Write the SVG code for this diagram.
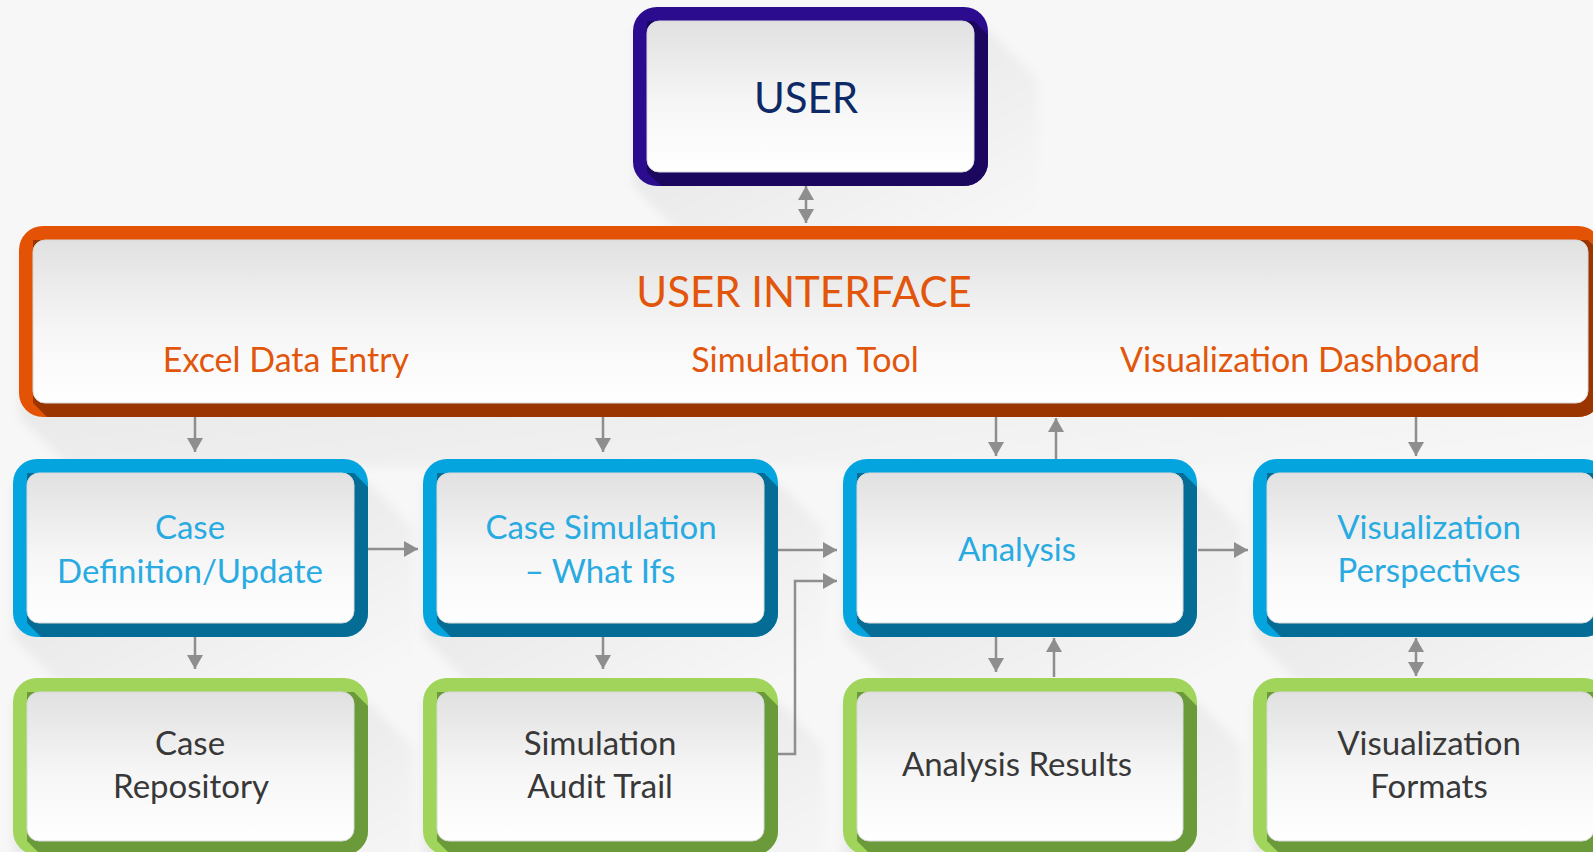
<svg xmlns="http://www.w3.org/2000/svg" width="1593" height="852" viewBox="0 0 1593 852">
<defs>
<linearGradient id="inner" x1="0" y1="0" x2="0" y2="1">
<stop offset="0" stop-color="#e1e1e1"/>
<stop offset="0.55" stop-color="#f6f6f6"/>
<stop offset="1" stop-color="#ffffff"/>
</linearGradient>
<linearGradient id="ls" x1="0" y1="0" x2="1" y2="1">
<stop offset="0.4" stop-color="#000" stop-opacity="0.05"/>
<stop offset="0.95" stop-color="#000" stop-opacity="0"/>
</linearGradient>
<filter id="soft" x="-10%" y="-10%" width="120%" height="120%">
<feGaussianBlur stdDeviation="5"/>
</filter>
<marker id="ah" viewBox="0 0 14 16" refX="14" refY="8" markerWidth="14" markerHeight="16" orient="auto-start-reverse" markerUnits="userSpaceOnUse">
<path d="M0,0 L14,8 L0,16 z" fill="#8e8e8e"/>
</marker>
</defs>
<style>
.bg{fill:#f7f7f7}
.ls{fill:url(#ls);filter:url(#soft)}
.in{fill:url(#inner);stroke:#d9d9d9;stroke-width:1}
.pu{fill:#2b0c8f}.pud{fill:#1b075e}
.or{fill:#e35205}.ord{fill:#9b3500}
.bl{fill:#04a5df}.bld{fill:#056c96}
.gr{fill:#a0d45b}.grd{fill:#6b9a3b}
text{font-family:Lato,"Open Sans","DejaVu Sans",sans-serif;text-anchor:middle}
.t1{font-size:42px}
.tu{fill:#0d2a66}
.to{fill:#e2560c}
.tl{font-size:34px}
.tb{fill:#29abe2;font-size:33px}
.tg{fill:#383838;font-size:33px}
.cn{fill:none;stroke:#8e8e8e;stroke-width:2.5}
</style>
<rect class="bg" x="0" y="0" width="1593" height="852"/>

<g id="node-user">
<path class="ls" d="M633,30 L988,30 L1038,80 L1038,236 L683,236 L633,186 Z"/>
<rect class="pu" x="633" y="7" width="355" height="179" rx="24"/>
<path class="pud" d="M647,21 L974,21 L988,35 L988,162 A24,24 0 0 1 964,186 L661,186 L647,172 Z"/>
<rect class="in" x="647" y="21" width="327" height="151" rx="12"/>
<text class="t1 tu" x="806" y="113">USER</text>
</g>

<g id="node-ui">
<path class="ls" d="M19,250 L1602,250 L1652,300 L1652,467 L69,467 L19,417 Z"/>
<rect class="or" x="19" y="226" width="1583" height="191" rx="24"/>
<path class="ord" d="M33,240 L1588,240 L1602,254 L1602,393 A24,24 0 0 1 1578,417 L47,417 L33,403 Z"/>
<rect class="in" x="33" y="240" width="1555" height="163" rx="12"/>
<text class="t1 to" x="804" y="307">USER INTERFACE</text>
<text class="tl to" x="286" y="372">Excel Data Entry</text>
<text class="tl to" x="805" y="372">Simulation Tool</text>
<text class="tl to" x="1300" y="372">Visualization Dashboard</text>
</g>

<g id="node-case-def">
<path class="ls" d="M13,483 L368,483 L413,528 L413,682 L58,682 L13,637 Z"/>
<rect class="bl" x="13" y="459" width="355" height="178" rx="24"/>
<path class="bld" d="M27,473 L354,473 L368,487 L368,613 A24,24 0 0 1 344,637 L41,637 L27,623 Z"/>
<rect class="in" x="27" y="473" width="327" height="150" rx="12"/>
<text class="tb" x="190" y="539">Case</text>
<text class="tb" x="190" y="583">Definition/Update</text>
</g>

<g id="node-case-sim">
<path class="ls" d="M423,483 L778,483 L823,528 L823,682 L468,682 L423,637 Z"/>
<rect class="bl" x="423" y="459" width="355" height="178" rx="24"/>
<path class="bld" d="M437,473 L764,473 L778,487 L778,613 A24,24 0 0 1 754,637 L451,637 L437,623 Z"/>
<rect class="in" x="437" y="473" width="327" height="150" rx="12"/>
<text class="tb" x="601" y="539">Case Simulation</text>
<text class="tb" x="600" y="583">– What Ifs</text>
</g>

<g id="node-analysis">
<path class="ls" d="M843,483 L1197,483 L1242,528 L1242,682 L888,682 L843,637 Z"/>
<rect class="bl" x="843" y="459" width="354" height="178" rx="24"/>
<path class="bld" d="M857,473 L1183,473 L1197,487 L1197,613 A24,24 0 0 1 1173,637 L871,637 L857,623 Z"/>
<rect class="in" x="857" y="473" width="326" height="150" rx="12"/>
<text class="tb" x="1017" y="561">Analysis</text>
</g>

<g id="node-vis-persp">
<path class="ls" d="M1253,483 L1608,483 L1653,528 L1653,682 L1298,682 L1253,637 Z"/>
<rect class="bl" x="1253" y="459" width="355" height="178" rx="24"/>
<path class="bld" d="M1267,473 L1594,473 L1608,487 L1608,613 A24,24 0 0 1 1584,637 L1281,637 L1267,623 Z"/>
<rect class="in" x="1267" y="473" width="327" height="150" rx="12"/>
<text class="tb" x="1429" y="539">Visualization</text>
<text class="tb" x="1429" y="582">Perspectives</text>
</g>

<g id="node-case-repo">
<path class="ls" d="M13,702 L368,702 L413,747 L413,900 L58,900 L13,855 Z"/>
<rect class="gr" x="13" y="678" width="355" height="177" rx="24"/>
<path class="grd" d="M27,692 L354,692 L368,706 L368,831 A24,24 0 0 1 344,855 L41,855 L27,841 Z"/>
<rect class="in" x="27" y="692" width="327" height="149" rx="12"/>
<text class="tg" x="190" y="755">Case</text>
<text class="tg" x="191" y="798">Repository</text>
</g>

<g id="node-audit">
<path class="ls" d="M423,702 L778,702 L823,747 L823,900 L468,900 L423,855 Z"/>
<rect class="gr" x="423" y="678" width="355" height="177" rx="24"/>
<path class="grd" d="M437,692 L764,692 L778,706 L778,831 A24,24 0 0 1 754,855 L451,855 L437,841 Z"/>
<rect class="in" x="437" y="692" width="327" height="149" rx="12"/>
<text class="tg" x="600" y="755">Simulation</text>
<text class="tg" x="600" y="798">Audit Trail</text>
</g>

<g id="node-results">
<path class="ls" d="M843,702 L1197,702 L1242,747 L1242,900 L888,900 L843,855 Z"/>
<rect class="gr" x="843" y="678" width="354" height="177" rx="24"/>
<path class="grd" d="M857,692 L1183,692 L1197,706 L1197,831 A24,24 0 0 1 1173,855 L871,855 L857,841 Z"/>
<rect class="in" x="857" y="692" width="326" height="149" rx="12"/>
<text class="tg" x="1017" y="776">Analysis Results</text>
</g>

<g id="node-vis-formats">
<path class="ls" d="M1253,702 L1608,702 L1653,747 L1653,900 L1298,900 L1253,855 Z"/>
<rect class="gr" x="1253" y="678" width="355" height="177" rx="24"/>
<path class="grd" d="M1267,692 L1594,692 L1608,706 L1608,831 A24,24 0 0 1 1584,855 L1281,855 L1267,841 Z"/>
<rect class="in" x="1267" y="692" width="327" height="149" rx="12"/>
<text class="tg" x="1429" y="755">Visualization</text>
<text class="tg" x="1429" y="798">Formats</text>
</g>

<g id="connectors">
<line class="cn" x1="806" y1="186" x2="806" y2="223" marker-start="url(#ah)" marker-end="url(#ah)"/>
<line class="cn" x1="195" y1="417" x2="195" y2="452" marker-end="url(#ah)"/>
<line class="cn" x1="603" y1="417" x2="603" y2="452" marker-end="url(#ah)"/>
<line class="cn" x1="996" y1="417" x2="996" y2="456" marker-end="url(#ah)"/>
<line class="cn" x1="1056" y1="459" x2="1056" y2="418" marker-end="url(#ah)"/>
<line class="cn" x1="1416" y1="417" x2="1416" y2="456" marker-end="url(#ah)"/>
<line class="cn" x1="368" y1="549" x2="418" y2="549" marker-end="url(#ah)"/>
<line class="cn" x1="778" y1="550" x2="837" y2="550" marker-end="url(#ah)"/>
<polyline class="cn" points="778,754 795,754 795,581 837,581" marker-end="url(#ah)"/>
<line class="cn" x1="1198" y1="550" x2="1248" y2="550" marker-end="url(#ah)"/>
<line class="cn" x1="195" y1="637" x2="195" y2="669" marker-end="url(#ah)"/>
<line class="cn" x1="603" y1="637" x2="603" y2="669" marker-end="url(#ah)"/>
<line class="cn" x1="996" y1="637" x2="996" y2="672" marker-end="url(#ah)"/>
<line class="cn" x1="1054" y1="677" x2="1054" y2="638" marker-end="url(#ah)"/>
<line class="cn" x1="1416" y1="638" x2="1416" y2="676" marker-start="url(#ah)" marker-end="url(#ah)"/>
</g>
</svg>
